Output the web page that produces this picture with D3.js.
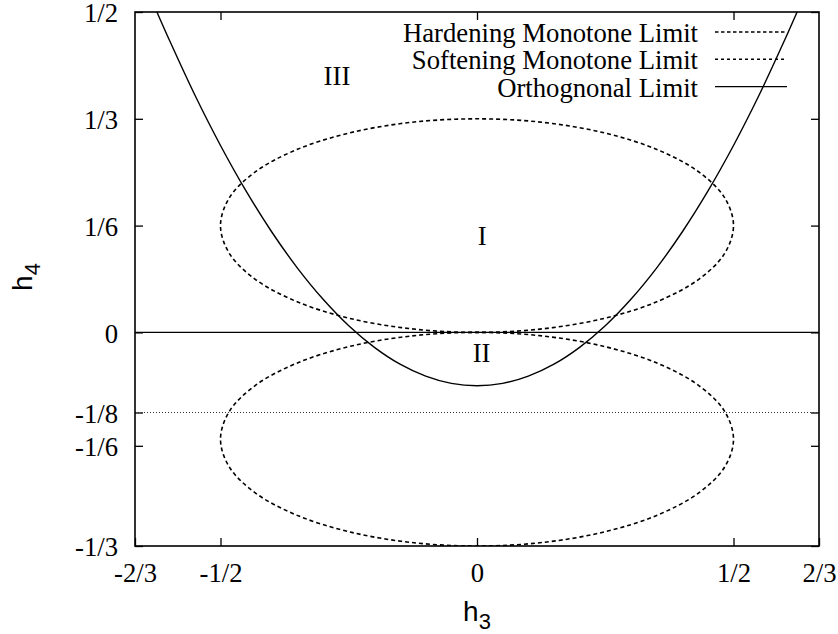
<!DOCTYPE html>
<html>
<head>
<meta charset="utf-8">
<script src="https://cdn.jsdelivr.net/npm/d3@7"></script>
<style>
  html, body { margin: 0; padding: 0; background: #fff; }
  svg { display: block; }
</style>
</head>
<body>
<svg id="chart" width="838" height="634"></svg>
<script>
// ---------------- DATA ----------------
const xTickValues = [-2/3, -1/2, 0, 1/2, 2/3];
const xTickLabels = ["-2/3", "-1/2", "0", "1/2", "2/3"];
const yTickValues = [-1/3, -0.177, -1/8, 0, 1/6, 1/3, 1/2];
const yTickLabels = ["-1/3", "-1/6", "-1/8", "0", "1/6", "1/3", "1/2"];
const topMirrorTicks = [-1/2, 0, 1/2];

// Orthogonal limit curve (h3, h4)
const orthoH3 = [-0.624, -0.6, -0.55, -0.5, -0.45, -0.4, -0.35, -0.3, -0.25, -0.2, -0.15, -0.1, -0.05, 0,
                 0.05, 0.1, 0.15, 0.2, 0.25, 0.3, 0.35, 0.4, 0.45, 0.5, 0.55, 0.6, 0.624];
const orthoH4 = [0.5, 0.4567, 0.3704, 0.2917, 0.2204, 0.1567, 0.1004, 0.0517, 0.0104, -0.0233, -0.0496, -0.0683, -0.0796, -0.0833,
                 -0.0796, -0.0683, -0.0496, -0.0233, 0.0104, 0.0517, 0.1004, 0.1567, 0.2204, 0.2917, 0.3704, 0.4567, 0.5];

// Hardening monotone limit (upper closed curve)
const hardH3 = [0.5, 0.483, 0.433, 0.3536, 0.25, 0.1294, 0, -0.1294, -0.25, -0.3536, -0.433, -0.483,
                -0.5, -0.483, -0.433, -0.3536, -0.25, -0.1294, 0, 0.1294, 0.25, 0.3536, 0.433, 0.483];
const hardH4 = [0.1667, 0.2098, 0.25, 0.2845, 0.3110, 0.3277, 0.3333, 0.3277, 0.3110, 0.2845, 0.25, 0.2098,
                0.1667, 0.1236, 0.0833, 0.0488, 0.0223, 0.0057, 0, 0.0057, 0.0223, 0.0488, 0.0833, 0.1236];

// Softening monotone limit (lower closed curve)
const softH3 = [0.5, 0.483, 0.433, 0.3536, 0.25, 0.1294, 0, -0.1294, -0.25, -0.3536, -0.433, -0.483,
                -0.5, -0.483, -0.433, -0.3536, -0.25, -0.1294, 0, 0.1294, 0.25, 0.3536, 0.433, 0.483];
const softH4 = [-0.1667, -0.1236, -0.0833, -0.0488, -0.0223, -0.0057, 0, -0.0057, -0.0223, -0.0488, -0.0833, -0.1236,
                -0.1667, -0.2098, -0.25, -0.2845, -0.3110, -0.3277, -0.3333, -0.3277, -0.3110, -0.2845, -0.25, -0.2098];

const zeroLevel = 0;
const dottedLevel = -1/8;

const legendLabels = ["Hardening Monotone Limit", "Softening Monotone Limit", "Orthognonal Limit"];
const regionLabels = ["III", "I", "II"];
const regionH3 = [-0.273, 0.01, 0.009];
const regionH4 = [0.386, 0.136, -0.046];

// ---------------- LAYOUT ----------------
const svg = d3.select("#chart");
const L = 135, R = 819, T = 12, B = 546;
const serif = "'Liberation Serif', 'Times New Roman', serif";
const sans = "'Liberation Sans', Arial, sans-serif";
const FS = 26.7;

const x = d3.scaleLinear().domain([-2/3, 2/3]).range([L, R]);
const y = d3.scaleLinear().domain([-1/3, 1/2]).range([B, T]);

svg.append("rect").attr("width", 838).attr("height", 634).attr("fill", "#fff");

svg.append("defs").append("clipPath").attr("id", "clip")
  .append("rect").attr("x", L).attr("y", T).attr("width", R - L).attr("height", B - T);

// Axes
const yAxis = d3.axisLeft(y).tickValues(yTickValues)
  .tickFormat((d, i) => yTickLabels[i]).tickSizeInner(-8).tickSizeOuter(0).tickPadding(17);
const gy = svg.append("g").attr("transform", `translate(${L},0)`).call(yAxis);
gy.select(".domain").remove();
gy.selectAll("line").attr("stroke", "#000").attr("stroke-width", 1.3);
gy.selectAll("text").attr("font-family", serif).attr("font-size", FS).attr("fill", "#000").attr("dy", "0.37em");

const yAxisR = d3.axisRight(y).tickValues(yTickValues).tickFormat("").tickSizeInner(-8).tickSizeOuter(0);
const gyr = svg.append("g").attr("transform", `translate(${R},0)`).call(yAxisR);
gyr.select(".domain").remove();
gyr.selectAll("line").attr("stroke", "#000").attr("stroke-width", 1.3);

const xAxis = d3.axisBottom(x).tickValues(xTickValues)
  .tickFormat((d, i) => xTickLabels[i]).tickSizeInner(-8).tickSizeOuter(0).tickPadding(17);
const gx = svg.append("g").attr("transform", `translate(0,${B})`).call(xAxis);
gx.select(".domain").remove();
gx.selectAll("line").attr("stroke", "#000").attr("stroke-width", 1.3);
gx.selectAll("text").attr("font-family", serif).attr("font-size", FS).attr("fill", "#000");

const xAxisT = d3.axisTop(x).tickValues(topMirrorTicks).tickFormat("").tickSizeInner(-8).tickSizeOuter(0);
const gxt = svg.append("g").attr("transform", `translate(0,${T})`).call(xAxisT);
gxt.select(".domain").remove();
gxt.selectAll("line").attr("stroke", "#000").attr("stroke-width", 1.3);

// Plot content
const plot = svg.append("g").attr("clip-path", "url(#clip)");

plot.append("line")
  .attr("x1", x(-2/3)).attr("x2", x(2/3)).attr("y1", y(dottedLevel)).attr("y2", y(dottedLevel))
  .attr("stroke", "#333").attr("stroke-width", 1).attr("stroke-dasharray", "1,2");

plot.append("line")
  .attr("x1", x(-2/3)).attr("x2", x(2/3)).attr("y1", y(zeroLevel)).attr("y2", y(zeroLevel))
  .attr("stroke", "#000").attr("stroke-width", 1.3);

const closedLine = d3.line().x(d => x(d[0])).y(d => y(d[1])).curve(d3.curveCatmullRomClosed);
const openLine = d3.line().x(d => x(d[0])).y(d => y(d[1])).curve(d3.curveCatmullRom);

plot.append("path")
  .attr("d", closedLine(hardH3.map((v, i) => [v, hardH4[i]])))
  .attr("fill", "none").attr("stroke", "#000").attr("stroke-width", 1.6).attr("stroke-dasharray", "4,3");

plot.append("path")
  .attr("d", closedLine(softH3.map((v, i) => [v, softH4[i]])))
  .attr("fill", "none").attr("stroke", "#000").attr("stroke-width", 1.6).attr("stroke-dasharray", "4,3");

plot.append("path")
  .attr("d", openLine(orthoH3.map((v, i) => [v, orthoH4[i]])))
  .attr("fill", "none").attr("stroke", "#000").attr("stroke-width", 1.4);

// Frame
svg.append("rect").attr("x", L).attr("y", T).attr("width", R - L).attr("height", B - T)
  .attr("fill", "none").attr("stroke", "#000").attr("stroke-width", 1.6);

// Region labels
svg.selectAll("text.region").data(regionLabels).enter().append("text")
  .attr("class", "region")
  .attr("x", (d, i) => x(regionH3[i])).attr("y", (d, i) => y(regionH4[i]))
  .attr("text-anchor", "middle").attr("font-family", serif).attr("font-size", FS).attr("fill", "#000")
  .text(d => d);

// Legend
const legendDash = ["3.5,2.5", "3,3", null];
const legend = svg.append("g");
legendLabels.forEach((lab, i) => {
  const by = 42 + i * 27.3;
  legend.append("text").attr("x", 698).attr("y", by).attr("text-anchor", "end")
    .attr("font-family", serif).attr("font-size", FS).attr("fill", "#000").text(lab);
  const ln = legend.append("line").attr("x1", 715).attr("x2", 787).attr("y1", by - 10).attr("y2", by - 10)
    .attr("stroke", "#000").attr("stroke-width", 1.4);
  if (legendDash[i]) ln.attr("stroke-dasharray", legendDash[i]);
});

// Axis titles
const xt = svg.append("text").attr("x", x(0)).attr("y", 621).attr("text-anchor", "middle")
  .attr("font-family", sans).attr("font-size", 28).attr("fill", "#000");
xt.append("tspan").text("h");
xt.append("tspan").attr("font-size", 22).attr("dy", 8).text("3");

const yt = svg.append("text").attr("transform", `translate(32,${(T + B) / 2 - 2}) rotate(-90)`)
  .attr("text-anchor", "middle").attr("font-family", sans).attr("font-size", 28).attr("fill", "#000");
yt.append("tspan").text("h");
yt.append("tspan").attr("font-size", 22).attr("dy", 8).text("4");
</script>
</body>
</html>
